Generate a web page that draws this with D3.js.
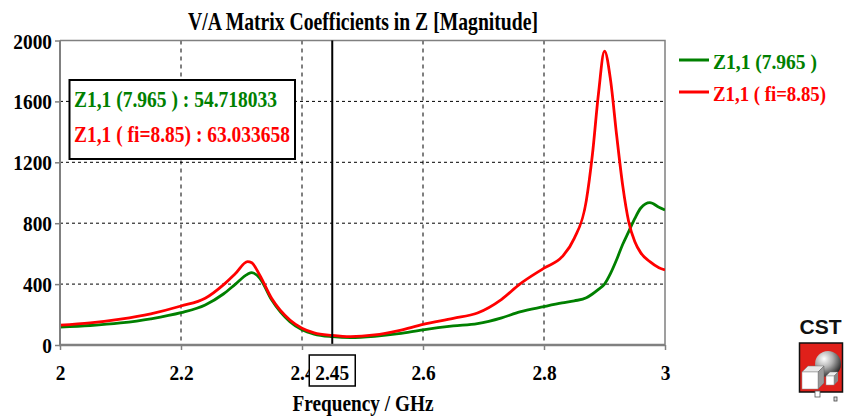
<!DOCTYPE html>
<html>
<head>
<meta charset="utf-8">
<script src="https://cdn.jsdelivr.net/npm/d3@7"></script>
<style>
  body { margin: 0; background: #fff; }
  svg text { font-family: "Liberation Serif", "Times New Roman", serif; font-weight: bold; }
</style>
</head>
<body>
<svg id="chart" width="847" height="420"></svg>
<script>
// Frequency samples (GHz)
const freq = [2.00, 2.05, 2.10, 2.15, 2.20, 2.24, 2.27, 2.29, 2.31, 2.317, 2.33, 2.35, 2.38, 2.40, 2.42,
              2.45, 2.48, 2.52, 2.56, 2.60, 2.65, 2.69, 2.73, 2.76, 2.80, 2.83, 2.85, 2.87, 2.88, 2.89,
              2.90, 2.91, 2.92, 2.93, 2.94, 2.95, 2.96, 2.975, 2.99, 3.00];

// |Z1,1| for the 7.965 case
const zGreen = [118, 128, 145, 172, 212, 263, 335, 400, 465, 475, 440, 295, 153, 100, 72,
                54.718033, 48, 57, 75, 100, 125, 140, 178, 218, 252, 276, 290, 310, 335, 365,
                400, 470, 560, 660, 745, 830, 900, 935, 905, 887];

// |Z1,1| for the fi=8.85 case
const zRed = [130, 145, 170, 205, 256, 307, 395, 470, 548, 540, 460, 305, 164, 110, 80,
              63.033658, 55, 66, 95, 135, 175, 210, 300, 400, 505, 580, 700, 950, 1250, 1650,
              1930, 1740, 1380, 1050, 810, 680, 605, 548, 508, 493];

const seriesNames = ["Z1,1 (7.965 )", "Z1,1 ( fi=8.85)"];
const seriesColors = ["#008000", "#ff0000"];
const xTicks = [2, 2.2, 2.4, 2.6, 2.8, 3];
const yTicks = [0, 400, 800, 1200, 1600, 2000];
const markerFreq = 2.45;

const svg = d3.select("#chart");
const plotL = 60, plotR = 665, plotT = 40.5, plotB = 345;

const x = d3.scaleLinear().domain([2, 3]).range([plotL, plotR]);
const y = d3.scaleLinear().domain([0, 2000]).range([plotB, plotT]);

// Squeeze a text element horizontally to a fraction of its natural width
function condense(sel, k) {
  sel.each(function () {
    const w = this.getComputedTextLength();
    d3.select(this).attr("textLength", w * k).attr("lengthAdjust", "spacingAndGlyphs");
  });
}

// Title
svg.append("text")
  .attr("x", 363).attr("y", 30)
  .attr("text-anchor", "middle")
  .attr("font-size", 25)
  .attr("textLength", 350).attr("lengthAdjust", "spacingAndGlyphs")
  .text("V/A Matrix Coefficients in Z [Magnitude]");

// Grid
const grid = svg.append("g");
grid.selectAll("line.v").data(xTicks.slice(1, -1)).join("line")
  .attr("x1", d => x(d)).attr("x2", d => x(d))
  .attr("y1", plotT).attr("y2", plotB)
  .attr("stroke", "#000").attr("stroke-width", 1).attr("stroke-dasharray", "4,4");
grid.selectAll("line.h").data(yTicks.slice(1, -1)).join("line")
  .attr("x1", plotL).attr("x2", plotR)
  .attr("y1", d => y(d)).attr("y2", d => y(d))
  .attr("stroke", "#000").attr("stroke-width", 1).attr("stroke-dasharray", "3,3");

// Frame (top and right)
svg.append("path")
  .attr("d", `M${plotL},${plotT}H${plotR}V${plotB}`)
  .attr("fill", "none").attr("stroke", "#808080").attr("stroke-width", 1.5);

// Curves
svg.append("clipPath").attr("id", "plotClip")
  .append("rect").attr("x", plotL).attr("y", plotT).attr("width", plotR - plotL).attr("height", plotB - plotT);

const line = d3.line().x(d => x(d[0])).y(d => y(d[1])).curve(d3.curveMonotoneX);
const curves = svg.append("g").attr("clip-path", "url(#plotClip)");
[zGreen, zRed].forEach((vals, i) => {
  curves.append("path")
    .datum(freq.map((f, k) => [f, vals[k]]))
    .attr("d", line)
    .attr("fill", "none")
    .attr("stroke", seriesColors[i])
    .attr("stroke-width", 2.8)
    .attr("stroke-linejoin", "round");
});

// Marker line at 2.45 GHz
svg.append("line")
  .attr("x1", x(markerFreq)).attr("x2", x(markerFreq))
  .attr("y1", plotT).attr("y2", plotB)
  .attr("stroke", "#000").attr("stroke-width", 2);

// Axes
const yAxis = svg.append("g").attr("transform", `translate(${plotL},0)`)
  .call(d3.axisLeft(y).tickValues(yTicks).tickSize(5).tickFormat(d3.format("d")));
yAxis.select(".domain").remove();
yAxis.selectAll(".tick line").attr("stroke", "#808080").attr("stroke-width", 1.5);
yAxis.selectAll(".tick text")
  .attr("x", -8).attr("dy", null).attr("y", 7.5)
  .attr("font-size", 21).attr("fill", "#000")
  .style("font-family", "'Liberation Serif', 'Times New Roman', serif").style("font-weight", "bold")
  .call(condense, 0.92);

const xAxis = svg.append("g").attr("transform", `translate(0,${plotB})`)
  .call(d3.axisBottom(x).tickValues(xTicks).tickSize(5).tickFormat(d => d3.format("")(d)));
xAxis.select(".domain").remove();
xAxis.selectAll(".tick line").attr("stroke", "#808080").attr("stroke-width", 1.5);
xAxis.selectAll(".tick text")
  .attr("y", 35).attr("dy", null)
  .attr("font-size", 22).attr("fill", "#000")
  .style("font-family", "'Liberation Serif', 'Times New Roman', serif").style("font-weight", "bold")
  .call(condense, 0.88);

svg.append("line").attr("x1", plotL).attr("x2", plotL).attr("y1", plotT).attr("y2", plotB + 1)
  .attr("stroke", "#808080").attr("stroke-width", 2);
svg.append("line").attr("x1", plotL - 1).attr("x2", plotR).attr("y1", plotB).attr("y2", plotB)
  .attr("stroke", "#808080").attr("stroke-width", 2.5);

// Marker label box on the x axis
const mx = x(markerFreq);
svg.append("rect")
  .attr("x", mx - 23).attr("y", 355).attr("width", 46).attr("height", 31)
  .attr("fill", "#fff").attr("stroke", "#000").attr("stroke-width", 1.5);
svg.append("text")
  .attr("x", mx).attr("y", 380).attr("text-anchor", "middle")
  .attr("font-size", 22)
  .text(d3.format("")(markerFreq))
  .call(condense, 0.88);

// X axis title
svg.append("text")
  .attr("x", 363).attr("y", 411).attr("text-anchor", "middle")
  .attr("font-size", 24)
  .attr("textLength", 141).attr("lengthAdjust", "spacingAndGlyphs")
  .text("Frequency / GHz");

// Marker value box
const idx = freq.indexOf(markerFreq);
const markerVals = [zGreen[idx], zRed[idx]];
svg.append("rect")
  .attr("x", 69.5).attr("y", 80).attr("width", 225.5).attr("height", 79)
  .attr("fill", "#fff").attr("stroke", "#000").attr("stroke-width", 2);
const boxWidths = [203, 216];
markerVals.forEach((v, i) => {
  svg.append("text")
    .attr("x", 74).attr("y", 107 + i * 35)
    .attr("font-size", 24)
    .attr("fill", seriesColors[i])
    .attr("textLength", boxWidths[i]).attr("lengthAdjust", "spacingAndGlyphs")
    .text(`${seriesNames[i]} : ${d3.format(".6f")(v)}`);
});

// Legend
const legWidths = [104, 113];
seriesNames.forEach((name, i) => {
  const ly = 60 + i * 32;
  svg.append("line")
    .attr("x1", 679).attr("x2", 709).attr("y1", ly).attr("y2", ly)
    .attr("stroke", seriesColors[i]).attr("stroke-width", 3);
  svg.append("text")
    .attr("x", 713).attr("y", ly + 8.5)
    .attr("font-size", 21.5)
    .attr("fill", seriesColors[i])
    .attr("textLength", legWidths[i]).attr("lengthAdjust", "spacingAndGlyphs")
    .text(name);
});

// CST logo
const logo = svg.append("g");
logo.append("text")
  .attr("x", 820.5).attr("y", 334).attr("text-anchor", "middle")
  .attr("font-size", 21)
  .style("font-family", "'Liberation Sans', Arial, sans-serif").style("font-weight", "bold")
  .attr("fill", "#111")
  .text("CST");

const defs = svg.append("defs");
const grad = defs.append("radialGradient").attr("id", "sphereGrad")
  .attr("cx", "35%").attr("cy", "30%").attr("r", "75%");
grad.append("stop").attr("offset", "0%").attr("stop-color", "#ffffff");
grad.append("stop").attr("offset", "45%").attr("stop-color", "#b0b0b0");
grad.append("stop").attr("offset", "100%").attr("stop-color", "#202020");

logo.append("rect").attr("x", 799.5).attr("y", 343).attr("width", 43).attr("height", 49)
  .attr("fill", "#e0201a").attr("stroke", "#111").attr("stroke-width", 1.5);
logo.append("circle").attr("cx", 828).attr("cy", 364).attr("r", 13)
  .attr("fill", "url(#sphereGrad)");
// large cube
logo.append("path").attr("d", "M802,372 L808,366 L824,366 L818,372 Z").attr("fill", "#e8e8e8").attr("stroke", "#777").attr("stroke-width", 0.5);
logo.append("path").attr("d", "M818,372 L824,366 L824,383 L818,389 Z").attr("fill", "#9a9a9a").attr("stroke", "#666").attr("stroke-width", 0.5);
logo.append("rect").attr("x", 802).attr("y", 372).attr("width", 16).attr("height", 17).attr("fill", "#fff").attr("stroke", "#888").attr("stroke-width", 0.5);
// small cube
logo.append("path").attr("d", "M826,376 L830,372 L838,372 L834,376 Z").attr("fill", "#eee").attr("stroke", "#777").attr("stroke-width", 0.5);
logo.append("path").attr("d", "M834,376 L838,372 L838,381 L834,385 Z").attr("fill", "#888");
logo.append("rect").attr("x", 826).attr("y", 376).attr("width", 8).attr("height", 9).attr("fill", "#fff").attr("stroke", "#888").attr("stroke-width", 0.5);
// tiny cubes below the frame
logo.append("rect").attr("x", 815).attr("y", 391).attr("width", 5).attr("height", 6).attr("fill", "#fff").attr("stroke", "#555").attr("stroke-width", 0.8);
logo.append("rect").attr("x", 834).attr("y", 397).attr("width", 3).attr("height", 4).attr("fill", "#ddd").attr("stroke", "#444").attr("stroke-width", 0.8);
</script>
</body>
</html>
